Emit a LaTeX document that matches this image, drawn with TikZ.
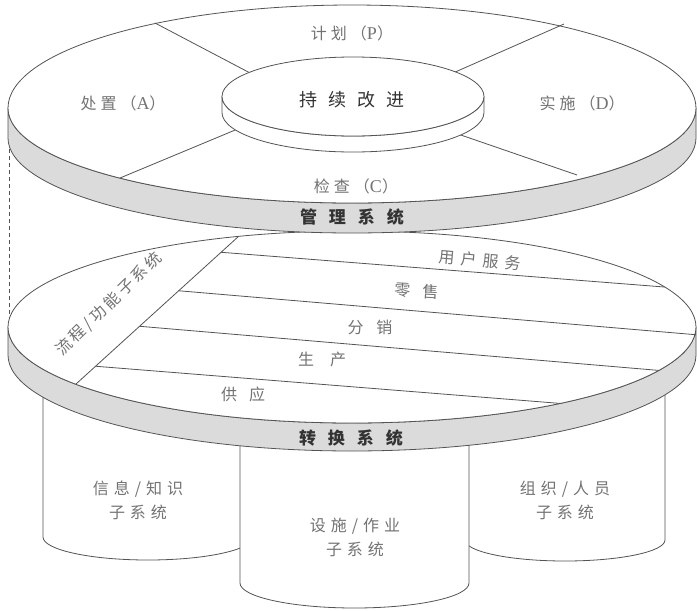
\documentclass[tikz,border=0pt]{standalone}
\usepackage{fontspec}
\setmainfont{Noto Sans CJK SC}
\newfontfamily\lat{Liberation Serif}
\newfontfamily\cjkls[LetterSpace=20]{Noto Sans CJK SC}
\usetikzlibrary{calc}
\definecolor{band}{gray}{0.86}
\definecolor{ink}{gray}{0.33}
\definecolor{txt}{gray}{0.45}
\definecolor{btxt}{gray}{0.2}
\newdimen\letsp
\def\endspc{}
\def\spc#1#2{\letsp=#1\relax\spcA#2\endspc}
\def\spcA#1#2{#1\ifx#2\endspc\else\hskip\letsp\expandafter\spcA\expandafter#2\fi}
\newcommand\latl[1]{{\lat\fontsize{18}{20}\selectfont #1}}
\begin{document}
\begin{tikzpicture}[x=1pt,y=-1pt,line join=round,
  outline/.style={draw=ink,line width=0.8pt},
  lbl/.style={text=txt,inner sep=0pt,align=center,font=\fontsize{16}{24}\selectfont},
  blbl/.style={text=btxt,inner sep=0pt,font=\fontsize{17}{20}\selectfont\bfseries},
  hub/.style={text=btxt,inner sep=0pt,font=\fontsize{18}{20}\selectfont}]
\useasboundingbox (0,0) rectangle (697,611);
\fill[white] (0,0) rectangle (697,611);

% ---------- sub-system cylinders ----------
\filldraw[outline,fill=white] (43,380) -- (43,537)
  arc[start angle=180,end angle=360,x radius=105pt,y radius=23pt] -- (253,380) -- cycle;
\filldraw[outline,fill=white] (665,380) -- (665,540)
  arc[start angle=0,end angle=-180,x radius=100pt,y radius=21pt] -- (465,380) -- cycle;
\filldraw[outline,fill=white] (240,420) -- (240,583)
  arc[start angle=180,end angle=360,x radius=114.5pt,y radius=25pt] -- (469,420) -- cycle;
\node[lbl] (info) at (138,500) {\spc{5pt}{信息/知识}\\\spc{5pt}{子系统}};
\node[lbl] (fac) at (355,537) {\spc{5pt}{设施/作业}\\\spc{5pt}{子系统}};
\node[lbl] (org) at (565,500) {\spc{5pt}{组织/人员}\\\spc{5pt}{子系统}};

% ---------- lower disc (转换系统) ----------
\begin{scope}[shift={(352,327)}]
  \filldraw[outline,fill=band] (-344,0) -- (-344,28)
    arc[start angle=180,end angle=360,x radius=344pt,y radius=96pt] -- (344,0)
    arc[start angle=0,end angle=-180,x radius=344pt,y radius=96pt] -- cycle;
  \filldraw[outline,fill=white] (0,0) ellipse[x radius=344pt,y radius=96pt];
\end{scope}
\coordinate (dA) at (239,236);
\coordinate (dB) at (76,384);
\coordinate (s1) at ($(dA)!0.11!(dB)$);
\coordinate (s2) at ($(dA)!0.37!(dB)$);
\coordinate (s3) at ($(dA)!0.61!(dB)$);
\coordinate (s4) at ($(dA)!0.88!(dB)$);
\begin{scope}
  \clip (352,327) ellipse[x radius=344pt,y radius=96pt];
  \draw[outline] (dA) -- (dB);
  \draw[outline] (s1) -- ($(s1)+(600,47)$);
  \draw[outline] (s2) -- ($(s2)+(600,51)$);
  \draw[outline] (s3) -- ($(s3)+(600,51)$);
  \draw[outline] (s4) -- ($(s4)+(600,48)$);
\end{scope}
\node[text=txt,inner sep=0pt,rotate=44,font=\cjkls\fontsize{16}{20}\selectfont] (flow) at (109,304) {流程/功能子系统};
\node[lbl,rotate=-5] (svc) at (480,260) {\spc{6pt}{用户服务}};
\node[lbl,rotate=-3] (retail) at (417,291) {\spc{12pt}{零售}};
\node[lbl] (dist) at (370,327) {\spc{13pt}{分销}};
\node[lbl] (prod) at (322,359) {\spc{16pt}{生产}};
\node[lbl] (supp) at (243,394) {\spc{12pt}{供应}};
\node[blbl] (trans) at (351,438) {\spc{12pt}{转换系统}};

% ---------- dashed guide ----------
\coordinate (gtop) at (9,142);
\coordinate (gbot) at (9,318);
\draw[draw=ink,line width=0.7pt,dash pattern=on 4pt off 3pt] (gtop) -- (gbot);

% ---------- upper disc (管理系统) ----------
\begin{scope}[shift={(352,108)}]
  \filldraw[outline,fill=band] (-344,0) -- (-344,30)
    arc[start angle=180,end angle=360,x radius=344pt,y radius=95pt] -- (344,0)
    arc[start angle=0,end angle=-180,x radius=344pt,y radius=95pt] -- cycle;
  \filldraw[outline,fill=white] (-344,0)
    arc[start angle=180,end angle=0,x radius=344pt,y radius=103pt]
    arc[start angle=0,end angle=-180,x radius=344pt,y radius=95pt] -- cycle;
\end{scope}
\coordinate (p1) at (155,23);  \coordinate (q1) at (252,74);
\coordinate (p2) at (564,24);  \coordinate (q2) at (453,73);
\coordinate (p3) at (120,178); \coordinate (q3) at (240,128);
\coordinate (p4) at (577,175); \coordinate (q4) at (455,133);
\draw[outline] (p1) -- (q1);
\draw[outline] (p2) -- (q2);
\draw[outline] (p3) -- (q3);
\draw[outline] (p4) -- (q4);
% inner disc
\begin{scope}[shift={(353,96.5)}]
  \filldraw[outline,fill=white] (-131,0) -- (-131,16)
    arc[start angle=180,end angle=360,x radius=131pt,y radius=39.5pt] -- (131,0)
    arc[start angle=0,end angle=-180,x radius=131pt,y radius=39.5pt] -- cycle;
  \filldraw[outline,fill=white] (0,0) ellipse[x radius=131pt,y radius=39.5pt];
\end{scope}
\node[hub] (hubtxt) at (352,100) {\spc{11pt}{持续改进}};
\node[lbl] (plan) at (352,33) {\spc{4pt}{计划}\hskip4pt（\latl{P}）};
\node[lbl] (act) at (123,103) {\spc{4pt}{处置}\hskip4pt（\latl{A}）};
\node[lbl] (doit) at (582,103) {\spc{4pt}{实施}\hskip4pt（\latl{D}）};
\node[lbl] (check) at (356,186) {\spc{4pt}{检查}\hskip4pt（\latl{C}）};
\node[blbl] (mgmt) at (352,217) {\spc{12pt}{管理系统}};
\end{tikzpicture}
\end{document}
